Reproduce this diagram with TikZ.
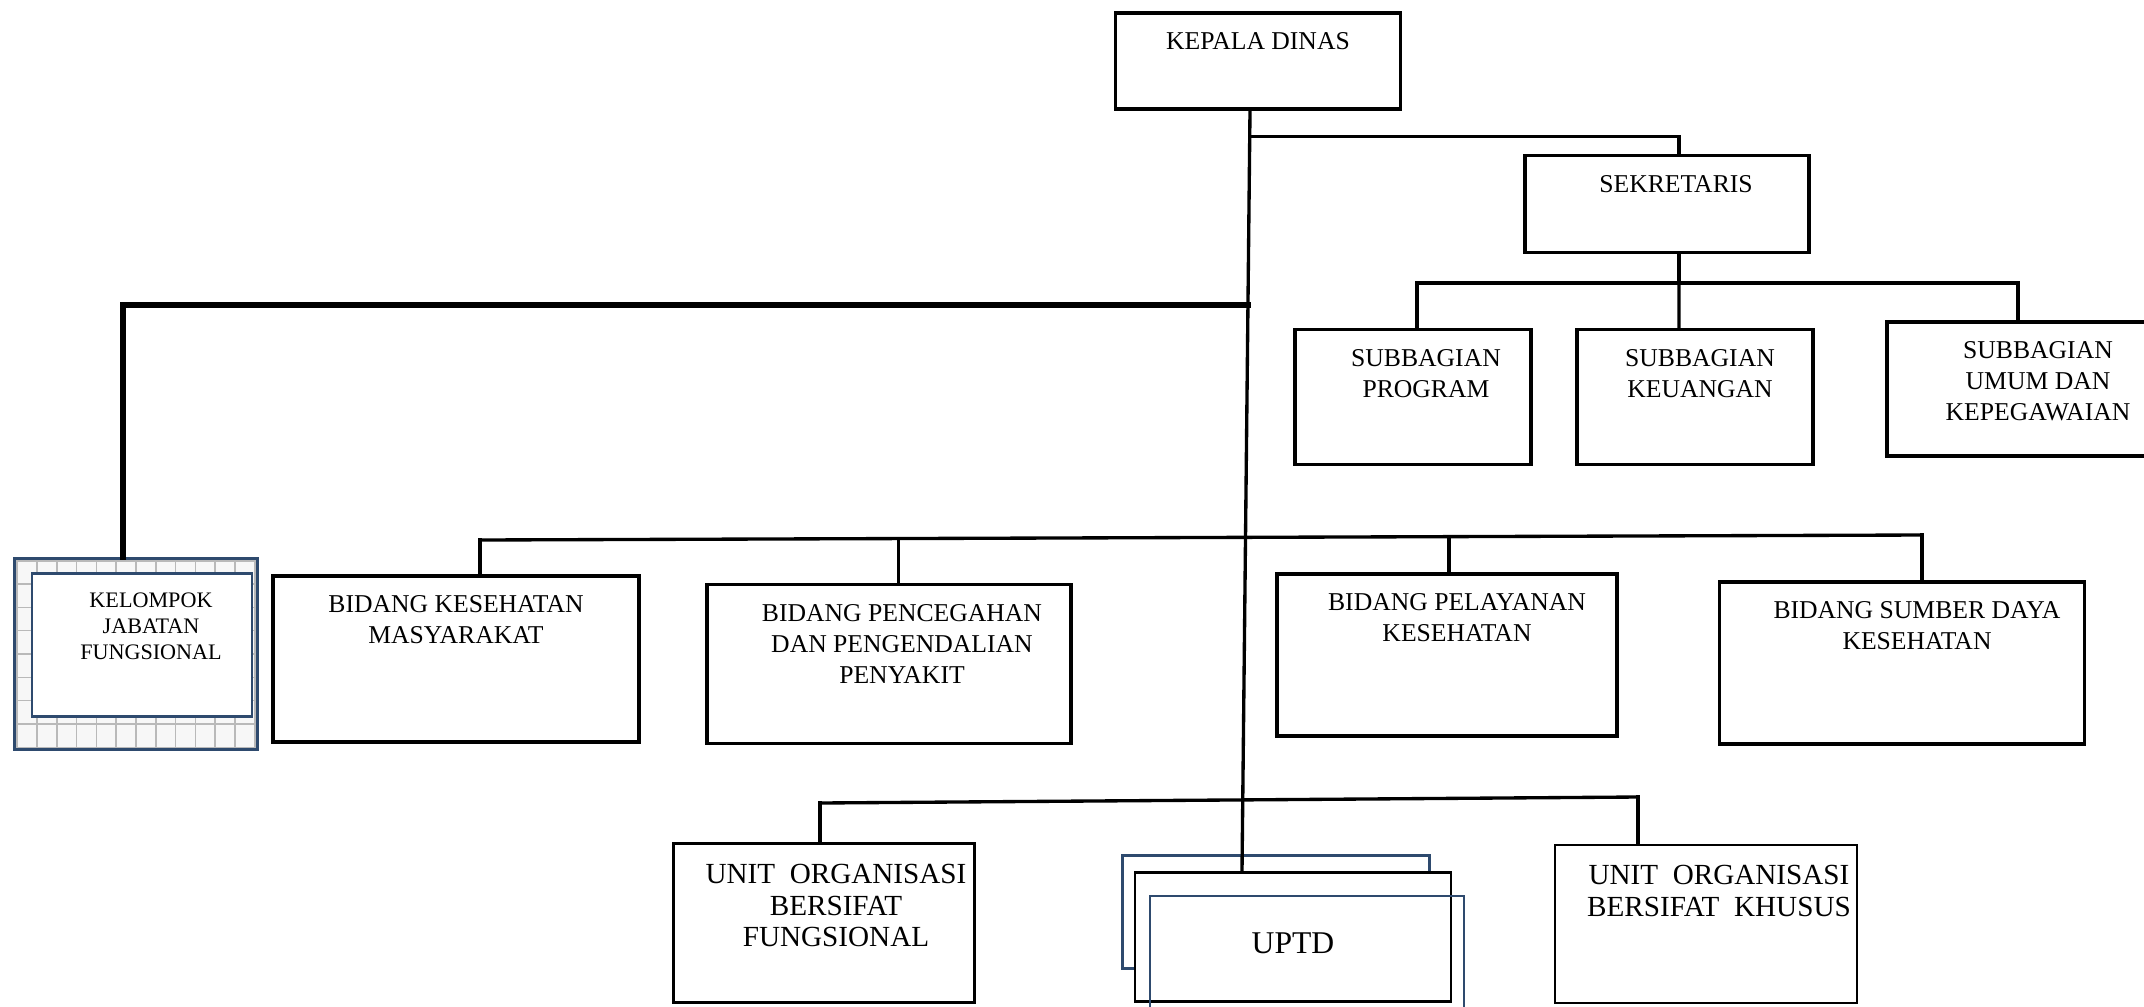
\documentclass[tikz,border=0pt]{standalone}
\usepackage{fontspec}
\setmainfont{Liberation Serif}
\usetikzlibrary{calc}

\definecolor{navy}{RGB}{46,74,110}
\newcommand{\boxfont}{\fontsize{7.3}{8.8}\selectfont}
\newcommand{\unitfont}{\fontsize{8.3}{9}\selectfont}
\newcommand{\kjffont}{\fontsize{6.3}{7.4}\selectfont}
\newcommand{\uptdfont}{\fontsize{9}{10}\selectfont}

\tikzset{
  box/.style={draw=black, line width=1.1pt, inner sep=0pt},
  thinbox/.style={draw=black, line width=0.65pt, inner sep=0pt},
  navybox/.style={draw=navy, line width=0.75pt, inner sep=0pt},
  txt/.style={anchor=north, align=center, inner sep=0pt, yshift=-0.21cm, font=\boxfont},
  link/.style={line width=0.95pt, line cap=rect},
  heavy/.style={line width=1.7pt, line cap=rect},
}

\begin{document}
\begin{tikzpicture}
    \useasboundingbox (0.00, 0.00) rectangle (21.44, 10.06);

    % pimpinan dan sekretariat
    \node[box, minimum width=2.85cm, minimum height=0.96cm, label={[txt]north:KEPALA DINAS}](kd) at (12.58, 9.45){};
    \node[box, minimum width=2.84cm, minimum height=0.97cm, label={[txt, xshift=0.09cm]north:SEKRETARIS}](sek) at (16.67, 8.02){};

    \node[box, minimum width=2.36cm, minimum height=1.35cm, label={[txt, xshift=0.13cm]north:SUBBAGIAN\\PROGRAM}](prog) at (14.13, 6.09){};
    \node[box, minimum width=2.36cm, minimum height=1.35cm, label={[txt, xshift=0.05cm]north:SUBBAGIAN\\KEUANGAN}](keu) at (16.95, 6.09){};
    \node[box, minimum width=3.02cm, minimum height=1.34cm, label={[txt]north:SUBBAGIAN\\UMUM DAN\\KEPEGAWAIAN}](umum) at (20.38, 6.17){};

    % bidang
    \node[box, minimum width=3.66cm, minimum height=1.66cm, label={[txt]north:BIDANG KESEHATAN\\MASYARAKAT}](kesmas) at (4.56, 3.47){};
    \node[box, minimum width=3.64cm, minimum height=1.59cm, label={[txt, xshift=0.13cm]north:BIDANG PENCEGAHAN\\DAN PENGENDALIAN\\PENYAKIT}](pp) at (8.89, 3.42){};
    \node[box, minimum width=3.40cm, minimum height=1.62cm, label={[txt, xshift=0.10cm]north:BIDANG PELAYANAN\\KESEHATAN}](pel) at (14.47, 3.51){};
    \node[box, minimum width=3.65cm, minimum height=1.62cm, label={[txt, xshift=0.15cm]north:BIDANG SUMBER DAYA\\KESEHATAN}](sdk) at (19.02, 3.43){};

    % kelompok jabatan fungsional
    \node[navybox, fill=gray!6, minimum width=2.43cm, minimum height=1.91cm,
          path picture={\draw[gray!55, line width=0.4pt, xstep=0.198, ystep=0.233] (path picture bounding box.south west) grid (path picture bounding box.north east);}](kjfo) at (1.36, 3.52){};
    \node[navybox, fill=white, minimum width=2.20cm, minimum height=1.43cm, label={[txt, font=\kjffont, xshift=0.09cm, yshift=0.01cm]north:KELOMPOK\\JABATAN\\FUNGSIONAL}](kjfi) at (1.42, 3.61){};

    % unit organisasi dan uptd
    \node[thinbox, minimum width=3.01cm, minimum height=1.59cm, label={[txt, font=\unitfont, xshift=0.12cm]north:UNIT~~ORGANISASI\\BERSIFAT\\FUNGSIONAL}](unf) at (8.24, 0.83){};
    \node[thinbox, minimum width=3.02cm, minimum height=1.58cm, label={[txt, font=\unitfont, xshift=0.13cm]north:UNIT~~ORGANISASI\\BERSIFAT~~KHUSUS}](unk) at (17.06, 0.82){};

    \node[navybox, minimum width=3.07cm, minimum height=1.13cm](up1) at (12.76, 0.94){};
    \node[thinbox, fill=white, minimum width=3.16cm, minimum height=1.29cm, font=\uptdfont, text height=0.32cm, text depth=0cm](up2) at (12.93, 0.69){UPTD};
    \node[navybox, minimum width=3.14cm, minimum height=1.40cm](up3) at (13.07, 0.40){};

    % garis komando
    \coordinate (tT) at ([xshift=-0.08cm]kd.south);
    \coordinate (tB) at ([xshift=-0.51cm]up2.north);
    \draw[link] (tT) -- (tB);

    \coordinate (jS) at ($(tT)!0.034!(tB)$);
    \coordinate (jK) at ($(tT)!0.255!(tB)$);
    \draw[link] (jS) -| ([xshift=0.12cm]sek.north);
    \draw[heavy] (jK) -| ([xshift=-0.13cm]kjfo.north);

    \coordinate (sb) at (16.79, 7.23);
    \draw[link] ([xshift=0.12cm]sek.south) -- (sb);
    \draw[link] ([xshift=0.04cm]prog.north) |- (sb);
    \draw[link] ([xshift=-0.20cm]umum.north) |- (sb);
    \draw[link] (sb) -- ([xshift=-0.16cm]keu.north);

    \coordinate (bL) at (4.80, 4.66);
    \coordinate (bR) at (19.22, 4.71);
    \coordinate (bP) at ($(bL)!0.29!(bR)$);
    \coordinate (bY) at ($(bL)!0.672!(bR)$);
    \draw[link] (bL) -- (bR);
    \draw[link] (bL) -- (bL |- kesmas.north);
    \draw[link] (bP) -- (bP |- pp.north);
    \draw[link] (bY) -- (bY |- pel.north);
    \draw[link] (bR) -- (bR |- sdk.north);

    \coordinate (uL) at (8.20, 2.03);
    \coordinate (uR) at (16.38, 2.09);
    \draw[link] (uL) -- (uR);
    \draw[link] (uL) -- (uL |- unf.north);
    \draw[link] (uR) -- (uR |- unk.north);
\end{tikzpicture}
\end{document}
